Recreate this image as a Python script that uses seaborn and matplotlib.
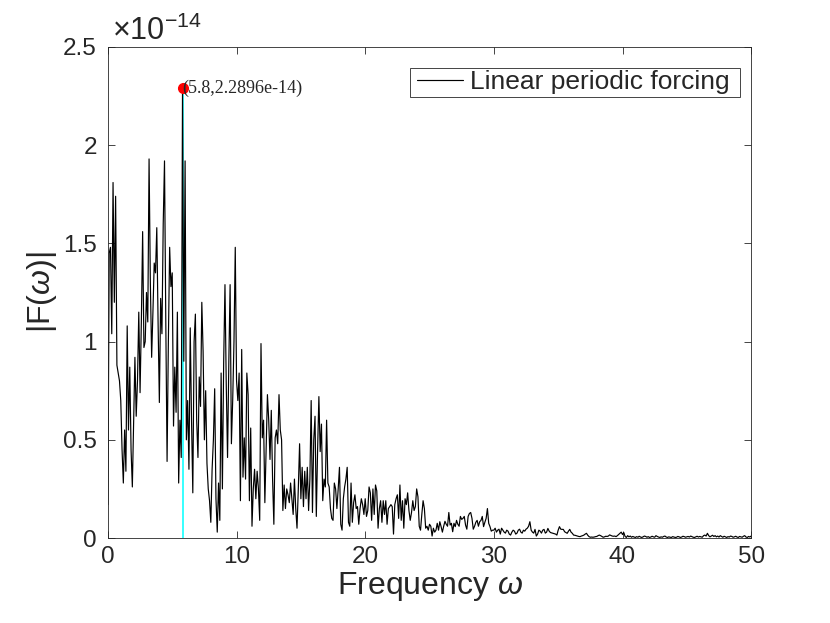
import numpy as np
import matplotlib
matplotlib.use("Agg")
import matplotlib.pyplot as plt
from matplotlib.patches import Rectangle
import seaborn as sns

# spectrum |F(w)|, in units of 1e-14, sampled every 0.1 from 0 to 50
freq_step = 0.1

amp_0_10 = [
    0.17, 1.45, 1.48, 1.04, 1.81, 1.20, 1.74, 0.88, 0.84, 0.80,
    0.70, 0.45, 0.28, 0.55, 0.34, 1.08, 0.55, 0.87, 0.45, 0.26,
    0.60, 0.92, 0.62, 0.80, 1.15, 0.74, 1.10, 1.56, 0.97, 1.00,
    1.25, 1.10, 1.93, 1.30, 0.92, 1.15, 1.40, 1.35, 1.58, 1.10,
    0.69, 1.22, 1.04, 1.60, 1.92, 1.10, 0.39, 1.00, 1.48, 1.28,
    1.35, 0.57, 0.87, 0.64, 1.15, 0.28, 0.60, 0.41, 2.2896, 0.90,
    1.92, 0.50, 0.70, 0.35, 1.07, 0.60, 0.23, 1.00, 1.14, 0.60,
    0.41, 0.82, 0.67, 1.20, 0.95, 0.50, 0.75, 0.38, 0.25, 0.19,
    0.08, 0.35, 0.50, 0.76, 0.20, 0.03, 0.28, 0.09, 0.84, 0.25,
    0.90, 1.29, 0.78, 0.41, 0.90, 1.29, 0.48, 0.70, 1.00, 1.48,
]
amp_10_20 = [
    0.80, 0.70, 0.84, 0.19, 0.96, 0.31, 0.51, 0.30, 0.84, 0.73,
    0.19, 0.56, 0.06, 0.25, 0.35, 0.20, 0.34, 0.25, 0.09, 0.99,
    0.51, 0.60, 0.18, 0.45, 0.73, 0.60, 0.40, 0.65, 0.30, 0.07,
    0.51, 0.55, 0.48, 0.73, 0.55, 0.50, 0.14, 0.27, 0.15, 0.25,
    0.22, 0.18, 0.28, 0.20, 0.12, 0.30, 0.15, 0.05, 0.25, 0.48,
    0.20, 0.36, 0.16, 0.34, 0.20, 0.36, 0.14, 0.30, 0.70, 0.13,
    0.50, 0.62, 0.11, 0.45, 0.72, 0.44, 0.58, 0.19, 0.30, 0.26,
    0.60, 0.28, 0.26, 0.15, 0.10, 0.09, 0.28, 0.25, 0.15, 0.25,
    0.36, 0.07, 0.04, 0.20, 0.26, 0.30, 0.36, 0.08, 0.06, 0.28,
    0.08, 0.18, 0.22, 0.15, 0.16, 0.07, 0.15, 0.20, 0.17, 0.12,
]
amp_20_30 = [
    0.20, 0.11, 0.14, 0.26, 0.23, 0.09, 0.25, 0.12, 0.27, 0.24,
    0.05, 0.15, 0.19, 0.08, 0.19, 0.12, 0.19, 0.07, 0.15, 0.16,
    0.17, 0.16, 0.02, 0.17, 0.20, 0.22, 0.10, 0.27, 0.09, 0.19,
    0.05, 0.20, 0.17, 0.23, 0.14, 0.09, 0.13, 0.19, 0.14, 0.16,
    0.25, 0.21, 0.06, 0.04, 0.12, 0.19, 0.15, 0.05, 0.06, 0.04,
    0.07, 0.06, 0.01, 0.05, 0.03, 0.04, 0.075, 0.04, 0.083, 0.058,
    0.03, 0.06, 0.085, 0.07, 0.06, 0.13, 0.066, 0.075, 0.032, 0.075,
    0.058, 0.09, 0.07, 0.06, 0.11, 0.095, 0.10, 0.11, 0.066, 0.045,
    0.11, 0.125, 0.13, 0.10, 0.045, 0.06, 0.08, 0.09, 0.06, 0.083,
    0.09, 0.11, 0.058, 0.08, 0.10, 0.15, 0.075, 0.058, 0.035, 0.04,
]
amp_30_40 = [
    0.040, 0.050, 0.030, 0.040, 0.045, 0.020, 0.050, 0.040, 0.030, 0.025,
    0.040, 0.035, 0.020, 0.015, 0.030, 0.040, 0.035, 0.020, 0.025, 0.040,
    0.045, 0.030, 0.025, 0.040, 0.035, 0.045, 0.050, 0.060, 0.083, 0.040,
    0.030, 0.025, 0.044, 0.010, 0.020, 0.040, 0.035, 0.025, 0.040, 0.044,
    0.025, 0.030, 0.049, 0.035, 0.028, 0.026, 0.024, 0.022, 0.020, 0.015,
    0.040, 0.058, 0.045, 0.044, 0.044, 0.032, 0.028, 0.024, 0.035, 0.044,
    0.030, 0.024, 0.015, 0.014, 0.012, 0.010, 0.008, 0.007, 0.010, 0.012,
    0.015, 0.020, 0.024, 0.014, 0.007, 0.004, 0.005, 0.004, 0.005, 0.007,
    0.008, 0.012, 0.015, 0.012, 0.008, 0.004, 0.006, 0.009, 0.008, 0.010,
    0.016, 0.013, 0.010, 0.009, 0.010, 0.007, 0.012, 0.018, 0.024, 0.030,
]
amp_40_50 = [
    0.018, 0.028, 0.008, 0.003, 0.012, 0.006, 0.010, 0.004, 0.008, 0.005, 0.003,
    0.007, 0.004, 0.009, 0.005, 0.003, 0.006, 0.010, 0.008, 0.004, 0.007,
    0.003, 0.005, 0.009, 0.006, 0.004, 0.012, 0.008, 0.005, 0.003, 0.006,
    0.004, 0.008, 0.010, 0.005, 0.003, 0.006, 0.004, 0.003, 0.007, 0.005,
    0.003, 0.004, 0.008, 0.006, 0.003, 0.005, 0.009, 0.007, 0.004, 0.006,
    0.008, 0.005, 0.010, 0.007, 0.004, 0.003, 0.006, 0.009, 0.005, 0.008,
    0.006, 0.004, 0.012, 0.015, 0.010, 0.024, 0.012, 0.006, 0.010, 0.014,
    0.008, 0.012, 0.006, 0.010, 0.005, 0.012, 0.008, 0.004, 0.009, 0.006,
    0.003, 0.007, 0.005, 0.010, 0.008, 0.004, 0.006, 0.009, 0.005, 0.003,
    0.008, 0.006, 0.004, 0.009, 0.012, 0.005, 0.003, 0.008, 0.005, 0.010,
]

peak_freq = 5.8
peak_amp = 2.2896
peak_label = "(5.8,2.2896e-14)"
series_label = "Linear periodic forcing"

xticks = [0, 10, 20, 30, 40, 50]
yticks = [0, 0.5, 1, 1.5, 2, 2.5]
ytick_labels = ["0", "0.5", "1", "1.5", "2", "2.5"]

amp = np.array(amp_0_10 + amp_10_20 + amp_20_30 + amp_30_40 + amp_40_50)
freq = np.round(np.arange(len(amp)) * freq_step, 1)

sns.set_style("ticks")
plt.rcParams['font.family'] = ['Liberation Sans', 'DejaVu Sans']
plt.rcParams['mathtext.fontset'] = 'custom'
plt.rcParams['mathtext.rm'] = 'Liberation Sans'
plt.rcParams['mathtext.it'] = 'Liberation Sans:italic'

axis_grey = '#262626'

fig = plt.figure(figsize=(8.3, 6.23), dpi=100)
ax = fig.add_axes([0.130, 0.1364, 0.775, 0.7882])

# stem at the peak, drawn under the spectrum
ax.plot([peak_freq, peak_freq], [0, peak_amp], color='cyan', lw=1.1, zorder=1)
sns.lineplot(x=freq, y=amp, color='black', lw=0.85, label=series_label, ax=ax,
             zorder=2, estimator=None, sort=False)
ax.plot(peak_freq, peak_amp, 'o', color='red', ms=7, zorder=3)
ax.text(peak_freq, peak_amp, peak_label, fontsize=13,
        family=['Liberation Serif', 'DejaVu Serif'], va='center', ha='left', zorder=4)

ax.set_xlim(0, 50)
ax.set_ylim(0, 2.5)
ax.set_xticks(xticks)
ax.set_yticks(yticks)
ax.set_yticklabels(ytick_labels)

ax.tick_params(direction='in', length=5, width=0.6, colors=axis_grey,
               labelsize=17.5, top=True, right=True, pad=6)
ax.tick_params(axis='y', pad=8)
for s in ax.spines.values():
    s.set_visible(True)
    s.set_color(axis_grey)
    s.set_linewidth(0.6)

ax.set_xlabel(r"Frequency $\omega$", fontsize=23, color=axis_grey, labelpad=1)
ax.set_ylabel(r"|F($\omega$)|", fontsize=23, color=axis_grey, labelpad=3)

ax.text(0.006, 1.0, r"$\times$10$^{-14}$", transform=ax.transAxes,
        fontsize=22, color=axis_grey, ha='left', va='bottom')

# MATLAB-style legend: wide box with tight vertical padding
ax.add_patch(Rectangle((0.4697, 0.898), 0.5133, 0.059, transform=ax.transAxes,
                       facecolor='white', edgecolor=axis_grey, lw=0.6, zorder=5))
leg = ax.legend(loc='center right', bbox_to_anchor=(0.966, 0.928),
                fontsize=19, frameon=False, borderpad=0,
                handlelength=1.75, handletextpad=0.25, borderaxespad=0)
leg.set_zorder(6)

fig.savefig("out.png", dpi=100)
